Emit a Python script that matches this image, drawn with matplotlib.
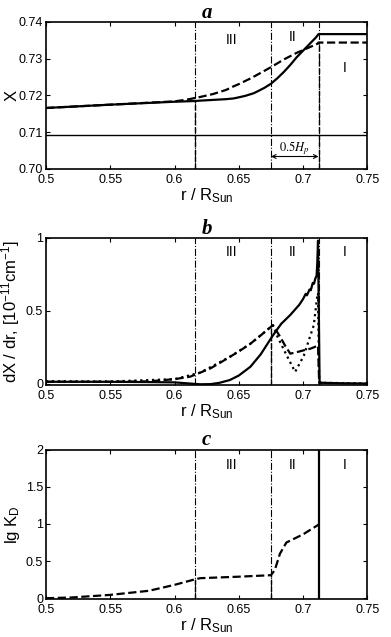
import numpy as np
import matplotlib.pyplot as plt

plt.rcParams['font.family'] = ['Liberation Sans', 'DejaVu Sans']
plt.rcParams['mathtext.default'] = 'regular'
plt.rcParams['mathtext.fontset'] = 'stix'

# zone boundaries and labels
bounds = [0.616, 0.675, 0.712]
zone_labels = ['III', 'II', 'I']
zone_x = [0.644, 0.692, 0.732]
zone_y_a = [0.7352, 0.7358, 0.7275]
zone_y_b = [0.90, 0.90, 0.90]
zone_y_c = [1.80, 1.80, 1.80]

x_ticks = [0.5, 0.55, 0.6, 0.65, 0.7, 0.75]
x_ticklabels = ['0.5', '0.55', '0.6', '0.65', '0.7', '0.75']

# a: X(r)
X_init = 0.7093
r_a_solid = [0.5, 0.55, 0.6, 0.616, 0.62, 0.63, 0.64, 0.646, 0.65, 0.655, 0.6615, 0.665, 0.67,
             0.675, 0.68, 0.685, 0.69, 0.695, 0.70, 0.705, 0.71, 0.712, 0.75]
X_a_solid = [0.7166, 0.7175, 0.7183, 0.7185, 0.7186, 0.7188, 0.7190, 0.7192, 0.7195, 0.7199, 0.7206,
             0.7212, 0.7221, 0.7232, 0.7247, 0.7264, 0.7283, 0.7304, 0.7322, 0.7340, 0.7358, 0.7367, 0.7367]
r_a_dash = [0.5, 0.55, 0.6, 0.61, 0.62, 0.63, 0.64, 0.646, 0.65, 0.66, 0.675, 0.685, 0.695, 0.7055,
            0.712, 0.712, 0.75]
X_a_dash = [0.7166, 0.7175, 0.7184, 0.7189, 0.7196, 0.7204, 0.7215, 0.7225, 0.7231, 0.7248, 0.7277,
            0.7298, 0.7316, 0.7332, 0.7342, 0.7344, 0.7344]
drop_r_a = [0.616, 0.712]
drop_X_a = [0.7185, 0.7344]

# b: dX/dr
r_b_solid = [0.5, 0.55, 0.58, 0.6, 0.612, 0.62, 0.628, 0.635, 0.643, 0.65, 0.659, 0.667, 0.6765,
             0.683, 0.690, 0.694, 0.697, 0.700, 0.702, 0.703, 0.705, 0.706, 0.7075, 0.7085, 0.7095,
             0.7105, 0.711, 0.7116, 0.7122, 0.7128, 0.715, 0.73, 0.75]
y_b_solid = [0.012, 0.012, 0.01, 0.008, 0.0, -0.005, -0.004, 0.005, 0.024, 0.055, 0.115, 0.2, 0.33,
             0.41, 0.47, 0.51, 0.54, 0.58, 0.615, 0.605, 0.645, 0.64, 0.69, 0.685, 0.72,
             0.74, 0.82, 0.98, 0.5, 0.01, 0.005, 0.002, 0.0]
r_b_dash = [0.5, 0.55, 0.58, 0.6, 0.6121, 0.62, 0.6277, 0.635, 0.643, 0.65, 0.659, 0.667, 0.6765,
            0.6822, 0.686, 0.690, 0.695, 0.7005, 0.706, 0.7116, 0.7125, 0.715]
y_b_dash = [0.012, 0.012, 0.015, 0.03, 0.047, 0.075, 0.103, 0.14, 0.183, 0.22, 0.273, 0.33, 0.40,
            0.32, 0.26, 0.205, 0.215, 0.228, 0.24, 0.26, 0.005, 0.0]
r_b_dot = [0.5, 0.55, 0.6, 0.62, 0.643, 0.659, 0.6765, 0.6796, 0.6874, 0.6938, 0.7005, 0.7083,
           0.711, 0.7116, 0.7125, 0.73, 0.75]
y_b_dot = [0.016, 0.014, 0.03, 0.075, 0.183, 0.273, 0.40, 0.33, 0.19, 0.08, 0.19, 0.40,
           0.60, 0.62, 0.005, 0.003, 0.0]
drop_r_b = [0.675]
drop_y_b = [0.40]

# c: lg K_D
r_c = [0.5, 0.52, 0.55, 0.58, 0.6, 0.616, 0.62, 0.65, 0.675, 0.678, 0.682, 0.687, 0.70, 0.712]
lgK_c = [0.0, 0.01, 0.045, 0.10, 0.18, 0.255, 0.27, 0.29, 0.31, 0.38, 0.6, 0.75, 0.86, 0.99]
drop_r_c = [0.616, 0.675]
drop_y_c = [0.255, 0.31]

fig = plt.figure(figsize=(3.91, 6.37), dpi=100)
left, width = 0.1176, 0.822
ax_a = fig.add_axes([left, 0.7347, width, 0.2308])
ax_b = fig.add_axes([left, 0.3956, width, 0.2312])
ax_c = fig.add_axes([left, 0.0597, width, 0.2344])


def style(ax, title, ylabel, ylim, ylab_x):
    ax.set_xlim(0.5, 0.75)
    ax.set_ylim(*ylim)
    ax.set_xticks(x_ticks)
    ax.set_xticklabels(x_ticklabels)
    ax.tick_params(direction='in', length=3, width=0.8, top=True, right=True,
                   labelsize=9, pad=2)
    ax.tick_params(axis='x', pad=3.5)
    for s in ax.spines.values():
        s.set_linewidth(1.2)
    ax.set_title(title, fontfamily='Liberation Serif', fontstyle='italic',
                 fontweight='bold', fontsize=15, pad=3)
    ax.set_xlabel('r / R$_{Sun}$', fontsize=12, labelpad=0)
    ax.set_ylabel(ylabel, fontsize=12, va='center')
    ax.yaxis.set_label_coords(ylab_x, 0.5)


def zones(ax, ys, solid_last=False):
    for i, xb in enumerate(bounds):
        if solid_last and i == 2:
            ax.axvline(xb, color='k', lw=1.6)
        else:
            ax.axvline(xb, color='k', lw=0.8, ls='-.')
    for lab, xz, yz in zip(zone_labels, zone_x, ys):
        ax.text(xz, yz, lab, ha='center', va='center', fontsize=10)


def drops(ax, rs, ys, bottom):
    for xr, yv in zip(rs, ys):
        ax.plot([xr, xr], [bottom, yv], color='k', lw=1.0, ls='--')


# panel a
style(ax_a, 'a', 'X', (0.70, 0.74), -0.105)
ax_a.set_yticks([0.70, 0.71, 0.72, 0.73, 0.74])
ax_a.set_yticklabels(['0.70', '0.71', '0.72', '0.73', '0.74'])
zones(ax_a, zone_y_a)
drops(ax_a, drop_r_a, drop_X_a, 0.70)
ax_a.axhline(X_init, color='k', lw=1.0)
ax_a.plot(r_a_solid, X_a_solid, color='k', lw=1.6)
ax_a.plot(r_a_dash, X_a_dash, color='k', lw=1.6, ls='--')
ax_a.annotate('', xy=(bounds[1], 0.7034), xytext=(bounds[2], 0.7034),
              arrowprops=dict(arrowstyle='<->', color='k', lw=0.8,
                              shrinkA=0, shrinkB=0, mutation_scale=7))
ax_a.text((bounds[1] + bounds[2]) / 2, 0.7056, r'$\mathit{0.5H_p}$', ha='center',
          va='center', fontsize=9)

# panel b
style(ax_b, 'b', 'dX / dr, [10$^{-11}$cm$^{-1}$]', (-0.01, 1.0), -0.11)
ax_b.set_yticks([0, 0.5, 1])
ax_b.set_yticklabels(['0', '0.5', '1'])
zones(ax_b, zone_y_b)
drops(ax_b, drop_r_b, drop_y_b, -0.01)
ax_b.plot(r_b_dot, y_b_dot, color='k', lw=1.6, ls=':')
ax_b.plot(r_b_dash, y_b_dash, color='k', lw=1.6, ls='--')
ax_b.plot(r_b_solid, y_b_solid, color='k', lw=1.6)

# panel c
style(ax_c, 'c', 'lg K$_D$', (-0.01, 2.0), -0.105)
ax_c.set_yticks([0, 0.5, 1, 1.5, 2])
ax_c.set_yticklabels(['0', '0.5', '1', '1.5', '2'])
zones(ax_c, zone_y_c, solid_last=True)
drops(ax_c, drop_r_c, drop_y_c, -0.01)
ax_c.plot(r_c, lgK_c, color='k', lw=1.6, ls='--')

fig.savefig('out.png', dpi=100)
